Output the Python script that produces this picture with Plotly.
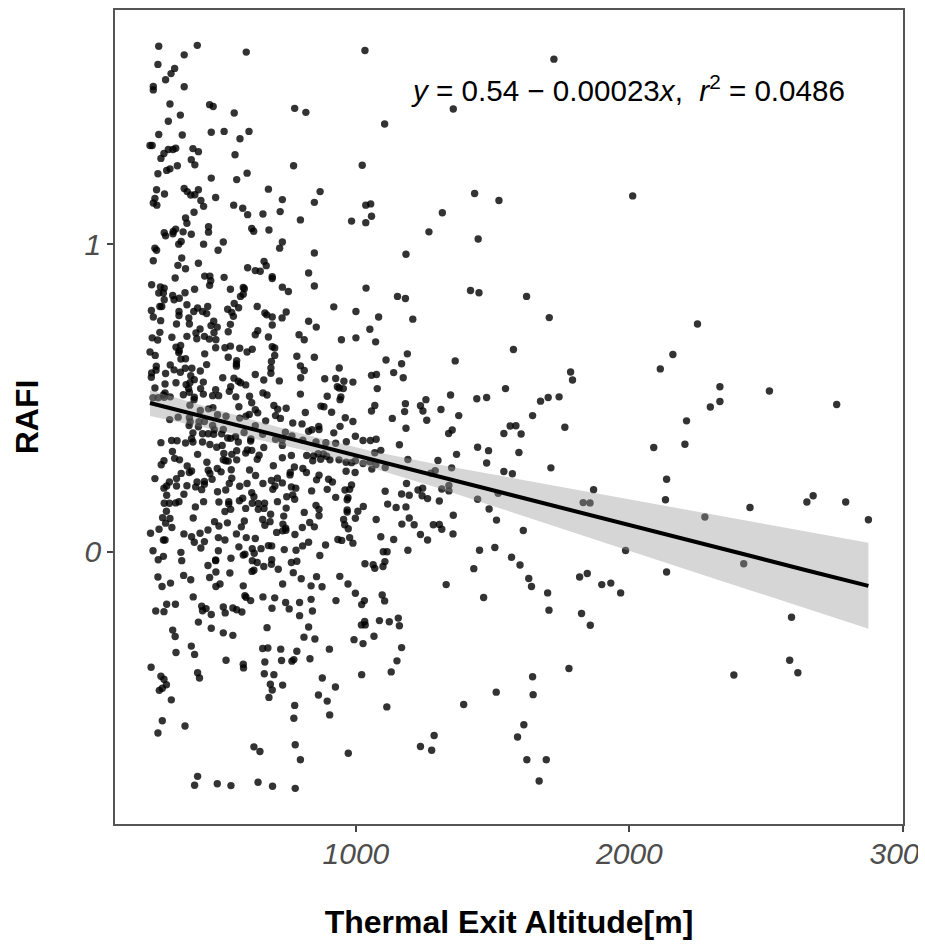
import plotly.graph_objects as go

# (altitude [m], RAFI) pairs, grouped by region
points_upper_left = [
(279,1.645),(420,1.648),(372,1.617),(599,1.626),(1033,1.631),(276,1.586),(337,1.573),(324,1.556),(304,1.536),(259,1.514),
(259,1.503),(372,1.513),(320,1.457),(465,1.455),(478,1.449),(555,1.428),(776,1.443),(817,1.430),(358,1.421),(314,1.401),
(279,1.358),(365,1.356),(471,1.365),(518,1.368),(609,1.368),(576,1.344),(247,1.322),(255,1.322),(341,1.313),(314,1.309),
(331,1.309),(298,1.296),(287,1.280),(404,1.312),(424,1.302),(558,1.292),(398,1.276),(411,1.259),(347,1.256),(320,1.246),
(308,1.241),(276,1.230),(772,1.256),(1023,1.258),(602,1.232),(564,1.211),(471,1.216),(271,1.178),(372,1.182),(383,1.172),
(424,1.178),(411,1.162),(396,1.161),(300,1.164),(265,1.150),(259,1.135),(272,1.128),(433,1.143),(443,1.124),(487,1.153),
(680,1.180),(731,1.146),(869,1.172),(848,1.137),(553,1.128),(586,1.118),(604,1.097),(660,1.099),(723,1.107),(1054,1.132),
(1036,1.128),(1057,1.092),(984,1.076),(1036,1.071),(797,1.080),(408,1.105),(377,1.086),(382,1.069),(461,1.058),(461,1.040),
(619,1.052),(626,1.043),(682,1.047),(341,1.050),(332,1.042),(368,1.041),(299,1.038),(304,1.028),(398,1.033),(331,1.035),
(361,1.010),(352,1.001),(443,1.001),(515,1.008),(731,1.008),(721,0.988),(265,0.988),(271,0.981),(496,0.981),(848,0.972),
(259,0.947),(363,0.956),(349,0.932),(377,0.921),(424,0.939),(604,0.924),(632,0.915),(650,0.913),(664,0.945),(672,0.931),
(827,0.907),(339,0.891),(447,0.897),(466,0.897),(469,0.882),(518,0.893),(694,0.895),(694,0.889),
]

points_upper_right = [
(1724,1.603),(1356,1.441),(1105,1.392),(1434,1.166),(1523,1.143),(1316,1.103),(1267,1.041),(1447,1.018),(1183,0.968),(2012,1.158),
(2249,0.741),(2159,0.642),(2113,0.595),(2331,0.537),(2512,0.523),(2758,0.479),(2331,0.489),(2296,0.471),(2209,0.426),(2203,0.350),
(2089,0.339),(2136,0.236),(2132,0.169),(2276,0.113),(2441,0.144),(2649,0.162),(2672,0.182),(2791,0.162),(2874,0.104),(2418,-0.039),
(2136,-0.066),(2593,-0.213),(2586,-0.353),(2616,-0.394),(2382,-0.401),
]

points_middle = [
(1152,0.831),(1181,0.824),(1419,0.850),(1450,0.843),(1624,0.831),(1083,0.764),(1208,0.757),(1707,0.762),(1051,0.724),(1072,0.683),
(1188,0.644),(1110,0.624),(1167,0.612),(1363,0.621),(1576,0.658),(1138,0.583),(1173,0.566),(1057,0.574),(1075,0.577),(1785,0.585),
(1792,0.559),(1078,0.531),(1547,0.531),(1346,0.510),(1256,0.495),(1442,0.498),(1478,0.502),(1675,0.490),(1703,0.502),(1743,0.504),
(1069,0.476),(1181,0.482),(1236,0.475),(1057,0.458),(1178,0.456),(1245,0.458),(1311,0.463),(1376,0.443),(1646,0.443),(1133,0.434),
(1259,0.428),(1183,0.402),(1564,0.409),(1585,0.410),(1764,0.405),(1352,0.396),(1339,0.385),(1541,0.385),(1604,0.383),(1074,0.366),
(1053,0.362),(1159,0.348),(1445,0.340),(1485,0.329),(1091,0.330),(1069,0.322),(1368,0.317),(1596,0.323),(1190,0.300),(1300,0.297),
(1478,0.289),(1713,0.273),(1350,0.273),(1290,0.264),(1274,0.256),(1541,0.261),(1572,0.254),(1073,0.284),(1058,0.269),(1107,0.274),
(1051,0.293),(1185,0.222),(1340,0.216),(1869,0.202),(1107,0.197),(1167,0.188),(1195,0.184),(1227,0.201),(1244,0.207),(1242,0.182),
(1262,0.173),(1314,0.204),(1340,0.198),(1305,0.165),(1445,0.171),(1520,0.190),(1831,0.160),(1856,0.159),(1116,0.155),(1147,0.144),
(1183,0.146),(1487,0.139),(1356,0.119),(1074,0.105),(1195,0.110),(1514,0.103),(1168,0.090),(1213,0.088),(1283,0.088),(1305,0.089),
(1314,0.073),(1612,0.069),(1355,0.058),(1236,0.056),(1091,0.049),(1138,0.040),(1262,0.038),(1508,0.014),(1452,0.005),(1190,0.005),
(1100,0.000),(1114,0.000),
]

points_lower_middle = [
(1986,0.004),(1431,-0.055),(1569,-0.018),(1600,-0.043),(1632,-0.087),(1642,-0.113),(1330,-0.107),(1467,-0.149),(1701,-0.134),(1706,-0.190),
(1818,-0.082),(1846,-0.071),(1899,-0.107),(1932,-0.102),(1968,-0.134),(1825,-0.201),(1857,-0.239),(1106,-0.032),(1099,-0.048),(1063,-0.042),
(1069,-0.054),(1096,-0.141),(1105,-0.160),(1086,-0.224),(1122,-0.228),(1155,-0.216),(1159,-0.241),(1066,-0.275),(1167,-0.312),(1150,-0.355),
(1129,-0.391),(1779,-0.380),(1646,-0.407),(1513,-0.457),(1648,-0.465),(1394,-0.497),(1113,-0.505),(1614,-0.563),(1591,-0.603),(1286,-0.598),
(1236,-0.634),(1277,-0.646),(1625,-0.677),(1696,-0.677),(1670,-0.746),
]

points_dense_a = [
(253,0.869),(285,0.862),(299,0.858),(279,0.842),(296,0.842),(410,0.854),(375,0.843),(465,0.867),(541,0.854),(588,0.860),
(592,0.856),(588,0.838),(578,0.831),(731,0.861),(753,0.847),(848,0.865),(1037,0.858),(330,0.834),(354,0.825),(299,0.820),
(335,0.820),(290,0.798),(283,0.798),(382,0.804),(421,0.793),(458,0.798),(439,0.782),(454,0.775),(407,0.782),(389,0.761),
(252,0.785),(259,0.764),(353,0.782),(353,0.769),(286,0.752),(344,0.741),(391,0.741),(531,0.789),(555,0.808),(571,0.794),
(546,0.779),(552,0.766),(639,0.798),(667,0.777),(674,0.771),(694,0.764),(745,0.780),(730,0.761),(919,0.797),(1000,0.782),
(827,0.750),(855,0.731),(694,0.738),(541,0.740),(480,0.750),(470,0.736),(493,0.731),(430,0.725),(415,0.712),(481,0.713),
(533,0.716),(283,0.714),(255,0.696),(275,0.689),(327,0.698),(382,0.701),(418,0.693),(446,0.701),(464,0.692),(488,0.690),
(641,0.719),(632,0.706),(680,0.699),(792,0.706),(811,0.690),(947,0.690),(1000,0.696),(342,0.666),(359,0.671),(354,0.654),
(352,0.648),(487,0.664),(521,0.664),(541,0.669),(575,0.662),(621,0.659),(602,0.650),(694,0.667),(703,0.663),(247,0.650),
(266,0.639),(447,0.644),(703,0.639),(784,0.636),(848,0.633),(533,0.633),(360,0.627),(377,0.628),(564,0.622),(563,0.611),
(563,0.604),(691,0.619),(454,0.609),(321,0.608),(270,0.604),(689,0.598),(797,0.605),(811,0.590),(939,0.598),(376,0.597),
(400,0.597),(335,0.592),(269,0.591),(358,0.584),(431,0.588),(253,0.582),(304,0.580),(252,0.568),(689,0.581),(632,0.577),
(396,0.573),(513,0.566),(554,0.565),(663,0.559),(720,0.556),(798,0.566),(886,0.563),(926,0.564),(956,0.555),(989,0.552),
(409,0.560),(342,0.550),(442,0.552),(302,0.546),(393,0.550),(379,0.544),(570,0.555),(578,0.550),(597,0.543),(265,0.533),
(388,0.531),(432,0.531),(542,0.537),(537,0.522),(487,0.527),(302,0.517),(296,0.510),(391,0.519),(369,0.511),(442,0.513),
(476,0.508),(498,0.508),(660,0.517),(675,0.510),(797,0.513),(895,0.506),(932,0.537),(939,0.533),(954,0.531),(945,0.504),
(942,0.495),(258,0.501),(277,0.501),(299,0.503),(321,0.504),(409,0.503),(408,0.495),(561,0.504),(611,0.506),(619,0.485),
]

points_dense_b = [
(393,0.477),(572,0.472),(700,0.476),(745,0.467),(714,0.464),(872,0.474),(883,0.472),(911,0.454),(461,0.465),(477,0.469),
(431,0.460),(632,0.462),(641,0.452),(610,0.447),(598,0.441),(575,0.435),(494,0.446),(525,0.441),(706,0.443),(724,0.434),
(815,0.453),(961,0.436),(989,0.424),(319,0.430),(350,0.438),(391,0.436),(394,0.423),(446,0.424),(426,0.423),(670,0.426),
(769,0.419),(803,0.416),(390,0.411),(424,0.407),(476,0.411),(632,0.410),(864,0.408),(942,0.408),(839,0.397),(827,0.392),
(865,0.398),(404,0.387),(482,0.397),(515,0.398),(591,0.388),(742,0.389),(919,0.387),(460,0.384),(439,0.384),(480,0.382),
(509,0.384),(659,0.382),(766,0.377),(998,0.376),(399,0.368),(531,0.370),(542,0.369),(560,0.374),(616,0.367),(615,0.360),
(706,0.366),(730,0.364),(806,0.363),(1026,0.362),(287,0.355),(326,0.362),(346,0.361),(377,0.354),(404,0.357),(439,0.357),
(466,0.349),(491,0.340),(511,0.346),(570,0.357),(663,0.339),(731,0.346),(854,0.357),(890,0.355),(926,0.353),(965,0.358),
(329,0.326),(517,0.320),(564,0.329),(546,0.317),(597,0.321),(619,0.330),(603,0.331),(421,0.317),(646,0.314),(731,0.306),
(764,0.313),(820,0.313),(845,0.312),(862,0.319),(881,0.318),(893,0.311),(337,0.304),(355,0.299),(298,0.296),(288,0.283),
(515,0.299),(524,0.296),(533,0.295),(564,0.299),(639,0.301),(842,0.296),(871,0.301),(905,0.299),(938,0.299),(964,0.291),
(998,0.296),(984,0.290),(1026,0.287),(455,0.291),(383,0.279),(698,0.280),(775,0.276),(806,0.271),(399,0.263),(391,0.258),
(361,0.255),(460,0.265),(466,0.255),(493,0.271),(507,0.260),(544,0.267),(611,0.266),(633,0.248),(760,0.258),(819,0.258),
(964,0.262),(997,0.258),(265,0.238),(344,0.238),(474,0.236),(546,0.239),(759,0.250),(865,0.249),(691,0.232),(713,0.239),
(856,0.234),(900,0.236),(914,0.227),(318,0.227),(419,0.227),(446,0.229),(446,0.220),(537,0.222),(602,0.222),(660,0.222),
(731,0.224),(984,0.217),(308,0.214),(298,0.207),(344,0.214),(382,0.215),(414,0.211),(436,0.202),(524,0.201),(575,0.213),
(704,0.214),(696,0.203),(764,0.211),(780,0.207),(838,0.198),(895,0.203),(960,0.201),(977,0.203),(494,0.195),(619,0.192),
]

points_dense_c = [
(371,0.187),(308,0.184),(747,0.179),(769,0.185),(926,0.177),(971,0.176),(968,0.169),(627,0.179),(586,0.174),(574,0.166),
(776,0.171),(299,0.158),(318,0.158),(341,0.159),(353,0.163),(443,0.163),(499,0.162),(535,0.163),(535,0.155),(713,0.163),
(621,0.158),(643,0.157),(666,0.158),(854,0.151),(413,0.146),(597,0.141),(643,0.138),(664,0.141),(745,0.142),(865,0.138),
(1027,0.147),(307,0.132),(521,0.131),(542,0.138),(968,0.136),(968,0.129),(1007,0.132),(811,0.128),(688,0.122),(736,0.116),
(865,0.117),(293,0.111),(320,0.108),(405,0.110),(998,0.109),(955,0.105),(304,0.093),(659,0.105),(592,0.100),(483,0.098),
(530,0.094),(686,0.098),(831,0.095),(959,0.088),(667,0.086),(499,0.084),(581,0.081),(733,0.090),(848,0.081),(327,0.079),
(804,0.079),(972,0.075),(280,0.073),(459,0.071),(249,0.060),(371,0.058),(430,0.060),(563,0.058),(710,0.063),(732,0.068),
(743,0.077),(744,0.070),(777,0.056),(399,0.049),(497,0.046),(599,0.046),(632,0.043),(977,0.046),(521,0.038),(296,0.038),
(302,0.038),(409,0.031),(446,0.033),(934,0.040),(948,0.037),(827,0.031),(805,0.019),(989,0.028),(889,0.022),(572,0.016),
(433,0.012),(680,0.020),(692,0.019),(621,0.010),(653,0.010),(738,0.007),(781,0.005),(258,0.003),(360,-0.002),(497,0.003),
]

points_lower_left = [
(628,-0.005),(594,-0.008),(588,-0.011),(277,-0.026),(296,-0.015),(363,-0.029),(543,-0.021),(487,-0.027),(487,-0.029),(459,-0.045),
(621,-0.029),(639,-0.035),(692,-0.026),(691,-0.041),(663,-0.048),(764,-0.035),(784,-0.031),(868,-0.012),(1033,-0.039),(716,-0.057),
(627,-0.060),(620,-0.064),(488,-0.066),(539,-0.069),(771,-0.068),(370,-0.077),(276,-0.082),(465,-0.084),(396,-0.091),(800,-0.088),
(856,-0.081),(941,-0.080),(322,-0.102),(291,-0.113),(503,-0.105),(488,-0.113),(588,-0.111),(732,-0.105),(836,-0.111),(876,-0.114),
(971,-0.105),(998,-0.135),(594,-0.143),(598,-0.148),(405,-0.147),(660,-0.147),(703,-0.150),(615,-0.159),(743,-0.165),(794,-0.165),
(836,-0.155),(927,-0.159),(1031,-0.159),(1021,-0.172),(308,-0.171),(340,-0.171),(436,-0.177),(439,-0.192),(452,-0.185),(515,-0.180),
(550,-0.183),(564,-0.189),(583,-0.196),(693,-0.184),(756,-0.186),(841,-0.193),(268,-0.193),(298,-0.195),(471,-0.204),(522,-0.199),
(794,-0.208),(424,-0.229),(1032,-0.227),(1020,-0.238),(1034,-0.238),(827,-0.245),(675,-0.247),(471,-0.249),(330,-0.255),(515,-0.264),
(550,-0.272),(339,-0.276),(810,-0.278),(850,-0.284),(993,-0.286),(1026,-0.299),(398,-0.307),(659,-0.315),(678,-0.313),(725,-0.317),
(784,-0.324),(903,-0.317),(342,-0.328),(410,-0.334),(525,-0.353),(588,-0.366),(589,-0.378),(667,-0.359),(728,-0.354),(766,-0.356),
(773,-0.351),(832,-0.348),(251,-0.376),(421,-0.394),(428,-0.411),(287,-0.405),(298,-0.415),(307,-0.433),(292,-0.444),(281,-0.451),
(665,-0.397),(700,-0.400),(1021,-0.400),(877,-0.411),(687,-0.431),(732,-0.434),(694,-0.450),(925,-0.440),(682,-0.474),(863,-0.466),
(895,-0.486),(325,-0.482),(776,-0.500),(773,-0.542),(904,-0.531),(292,-0.550),(375,-0.567),(276,-0.590),(627,-0.635),(649,-0.650),
(778,-0.628),(972,-0.656),(797,-0.677),(421,-0.731),(410,-0.760),(493,-0.755),(543,-0.761),(642,-0.750),(695,-0.763),(778,-0.770),
]

# Fitted line and confidence band
fit_x = [247, 500, 800, 1051, 1295, 1539, 1800, 2002, 2250, 2441, 2650, 2874]
fit_y = [0.484, 0.427, 0.359, 0.302, 0.247, 0.191, 0.132, 0.086, 0.030, -0.013, -0.061, -0.111]
fit_upper = [0.526, 0.460, 0.385, 0.329, 0.285, 0.246, 0.203, 0.170, 0.130, 0.099, 0.065, 0.029]
fit_lower = [0.442, 0.394, 0.333, 0.275, 0.209, 0.136, 0.061, 0.002, -0.070, -0.125, -0.187, -0.251]

x_ticks = [1000, 2000, 3000]
y_ticks = [0, 1]
x_title = "Thermal Exit Altitude[m]"
y_title = "RAFI"
equation = "<i>y</i> = 0.54 − 0.00023<i>x</i>,  <i>r</i><sup>2</sup> = 0.0486"

all_points = (points_upper_left + points_upper_right + points_middle + points_lower_middle
              + points_dense_a + points_dense_b + points_dense_c + points_lower_left)
altitude = [p[0] for p in all_points]
rafi = [p[1] for p in all_points]

FONT = "Liberation Sans, Arial, sans-serif"
fig = go.Figure()
fig.add_trace(go.Scatter(x=altitude, y=rafi, mode="markers",
                         marker=dict(size=7.4, color="rgba(0,0,0,0.8)", line=dict(width=0)),
                         hoverinfo="skip"))
fig.add_trace(go.Scatter(x=fit_x + fit_x[::-1], y=fit_upper + fit_lower[::-1], mode="lines",
                         fill="toself", fillcolor="rgba(153,153,153,0.4)", line=dict(width=0),
                         hoverinfo="skip"))
fig.add_trace(go.Scatter(x=fit_x, y=fit_y, mode="lines", line=dict(color="black", width=4),
                         hoverinfo="skip"))

axis_common = dict(showgrid=False, zeroline=False, showline=True, mirror=True, linecolor="#555555",
                   linewidth=1.5, ticks="outside", ticklen=6, tickwidth=1.5, tickcolor="#444444",
                   ticklabeloverflow="allow",
                   tickfont=dict(family=FONT, size=30, color="#4D4D4D", style="italic"))
fig.update_xaxes(range=[119, 3000.5], tickvals=x_ticks, ticktext=[str(v) for v in x_ticks],
                 automargin="height", ticklabelstandoff=-4,
                 title=dict(text=x_title, font=dict(family=FONT, size=32, color="black", weight="bold"), standoff=42),
                 **axis_common)
fig.update_yaxes(range=[-0.886, 1.763], tickvals=y_ticks, ticktext=[str(v) for v in y_ticks],
                 automargin="width",
                 title=dict(text=y_title, font=dict(family=FONT, size=32, color="black", weight="bold"), standoff=36),
                 **axis_common)
fig.add_annotation(xref="paper", yref="paper", x=0.373, y=0.904, xanchor="left", yanchor="middle",
                   text=equation, showarrow=False, font=dict(family=FONT, size=29.6, color="black"))
# the reference's right edge cuts the last tick label short
fig.add_shape(type="rect", xref="paper", yref="paper", x0=1.0190, x1=1.03, y0=-0.08, y1=-0.02,
              fillcolor="white", line=dict(width=0), layer="above")
fig.update_layout(width=925, height=945, showlegend=False, plot_bgcolor="white", paper_bgcolor="white",
                  margin=dict(l=115, r=22, t=8, b=121))
fig.write_html("out.html", post_script="document.body.style.margin='0';",
               config=dict(displayModeBar=False))
